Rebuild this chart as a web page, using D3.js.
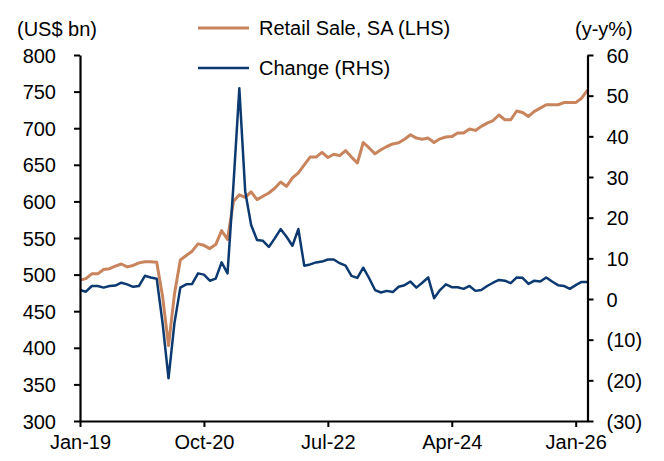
<!DOCTYPE html>
<html>
<head>
<meta charset="utf-8">
<script src="https://cdn.jsdelivr.net/npm/d3@7"></script>
<style>
  body { margin: 0; background: #fff; }
  svg text { font-family: "Liberation Sans", Arial, sans-serif; font-size: 20px; fill: #000; }
</style>
</head>
<body>
<div id="chart"></div>
<script>
// Monthly retail sales (US$ bn, LHS) and y-y change (%, RHS), Jan-19 .. Mar-26
const retailSale = [
  492.5, 494.5, 501, 501, 507, 508, 511.5, 514.5, 510.5, 512.5, 516, 517.5,
  517.5, 517, 470, 403, 473, 520, 526, 532, 542, 540, 535.5, 541,
  560, 548, 600, 609, 605.5, 613, 602.5, 607, 611.5, 618, 626.5, 620.5,
  632, 639, 650, 660.5, 660.5, 667, 660, 664.5, 662.5, 669.5, 660.5, 652.5,
  680.5, 673, 665, 670.5, 675, 678.5, 680, 685, 691, 686.5, 685, 686.5,
  680.5, 685.5, 688, 688.5, 693.5, 693.5, 699, 697, 702.5, 707, 710.5, 718,
  711.5, 711.5, 723.5, 721.5, 716, 723, 727.5, 732, 732, 732, 735, 735,
  735, 741, 752
];
const change = [
  2.2, 1.8, 3.2, 3.2, 2.8, 3.2, 3.3, 4.0, 3.6, 3.0, 3.2, 5.7,
  5.3, 5.0, -6, -19.5, -6, 2.8, 3.6, 3.7, 6.3, 6.0, 4.5, 5.0,
  9.0, 6.3, 28, 51.8, 26.4, 18.2, 14.5, 14.3, 12.8, 14.9, 17.2, 15.3,
  13.1, 17.2, 8.2, 8.5, 9.0, 9.2, 9.7, 9.7, 8.8, 8.2, 5.7, 5.2,
  7.7, 5.1, 2.2, 1.6, 2.0, 1.7, 3.0, 3.4, 4.3, 2.8, 4.0, 5.3,
  0.2, 2.2, 3.6, 2.9, 2.9, 2.5, 3.2, 2.0, 2.2, 3.2, 4.0, 4.7,
  4.5, 3.9, 5.3, 5.2, 3.7, 4.5, 4.3, 5.3, 4.3, 3.4, 3.2, 2.5,
  3.4, 4.2, 4.2
];
const xTickLabels = ["Jan-19", "Oct-20", "Jul-22", "Apr-24", "Jan-26"];
const leftTicks = [300, 350, 400, 450, 500, 550, 600, 650, 700, 750, 800];
const rightTicks = [-30, -20, -10, 0, 10, 20, 30, 40, 50, 60];

const fmtMonth = d3.timeFormat("%b-%y");
const months = d3.timeMonth.range(new Date(2019, 0, 1), new Date(2019, 0 + retailSale.length, 1)).map(fmtMonth);

const width = 664, height = 461;
const margin = {top: 55, right: 76.5, bottom: 40, left: 80};
const orange = "#c8845c", navy = "#0c3a70";

const svg = d3.select("#chart").append("svg")
  .attr("width", width)
  .attr("height", height);

const x = d3.scalePoint()
  .domain(months)
  .range([margin.left, width - margin.right]);

const yL = d3.scaleLinear().domain([300, 800]).range([height - margin.bottom, margin.top]);
const yR = d3.scaleLinear().domain([-30, 60]).range([height - margin.bottom, margin.top]);

const fmtR = v => v < 0 ? "(" + Math.abs(v) + ")" : String(v);

// lines
const lineL = d3.line().x((d, i) => x(months[i])).y(d => yL(d));
const lineR = d3.line().x((d, i) => x(months[i])).y(d => yR(d));

svg.append("path")
  .datum(retailSale)
  .attr("fill", "none")
  .attr("stroke", orange)
  .attr("stroke-width", 3)
  .attr("stroke-linejoin", "round")
  .attr("d", lineL);

svg.append("path")
  .datum(change)
  .attr("fill", "none")
  .attr("stroke", navy)
  .attr("stroke-width", 2.5)
  .attr("stroke-linejoin", "round")
  .attr("d", lineR);

// axes
const gL = svg.append("g")
  .attr("transform", `translate(${margin.left},0)`)
  .call(d3.axisLeft(yL).tickValues(leftTicks).tickSize(6).tickSizeOuter(0).tickPadding(18));

const gR = svg.append("g")
  .attr("transform", `translate(${width - margin.right},0)`)
  .call(d3.axisRight(yR).tickValues(rightTicks).tickFormat(fmtR).tickSize(6).tickSizeOuter(0).tickPadding(13));

const gX = svg.append("g")
  .attr("transform", `translate(0,${height - margin.bottom})`)
  .call(d3.axisBottom(x).tickValues(xTickLabels).tickSize(6).tickSizeOuter(0).tickPadding(6));

[gL, gR, gX].forEach(g => {
  g.select(".domain").attr("stroke", "#000").attr("stroke-width", 2.2);
  g.selectAll(".tick line").attr("stroke", "#000").attr("stroke-width", 2);
  g.selectAll("text").attr("font-size", null).attr("font-family", null);
});
gL.selectAll(".tick text").attr("dy", "0.35em");
gR.selectAll(".tick text").attr("dy", "0.35em");
gX.selectAll(".tick text").attr("dy", "0.8em");

// axis titles
svg.append("text").attr("x", 17).attr("y", 36).text("(US$ bn)");
svg.append("text").attr("x", 575).attr("y", 36).text("(y-y%)");

// legend
const legend = [
  {label: "Retail Sale, SA (LHS)", color: orange, w: 3, y: 28},
  {label: "Change (RHS)", color: navy, w: 2.5, y: 68}
];
const lg = svg.append("g");
lg.selectAll("line").data(legend).join("line")
  .attr("x1", 198).attr("x2", 249)
  .attr("y1", d => d.y).attr("y2", d => d.y)
  .attr("stroke", d => d.color)
  .attr("stroke-width", d => d.w);
lg.selectAll("text").data(legend).join("text")
  .attr("x", 259).attr("y", d => d.y + 7)
  .text(d => d.label);
</script>
</body>
</html>
